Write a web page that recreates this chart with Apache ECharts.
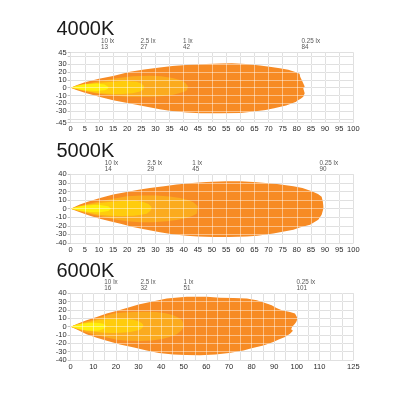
<!DOCTYPE html>
<html><head><meta charset="utf-8">
<script src="https://cdn.jsdelivr.net/npm/echarts@6.0.0/dist/echarts.min.js"></script>
<style>html,body{margin:0;padding:0;background:#fff}#c{width:416px;height:416px}</style>
</head><body><div id="c"></div><script>
// ---------- data ----------
const panelTitles = ['4000K', '5000K', '6000K'];
const luxLevels = ['10 lx', '2.5 lx', '1 lx', '0.25 lx'];
const isoColors = ['#FFEE0A', '#FFCC0D', '#FBAB1E', '#F78B24'];

const dist4000 = [13, 27, 42, 84];
const dist5000 = [14, 29, 45, 90];
const dist6000 = [16, 32, 51, 101];

const xTicks4000 = [0,5,10,15,20,25,30,35,40,45,50,55,60,65,70,75,80,85,90,95,100];
const yTicks4000 = [-45,-40,-30,-20,-10,0,10,20,30,40,45];
const yLabels4000 = [-45,-30,-20,-10,0,10,20,30,45];
const xTicks5000 = xTicks4000;
const yLabels5000 = [-40,-30,-20,-10,0,10,20,30,40];
const xTicks6000 = [0,5,10,15,20,25,30,35,40,45,50,55,60,65,70,75,80,85,90,95,100,105,110,115,120,125];
const xLabels6000 = [0,10,20,30,40,50,60,70,80,90,100,110,125];
const yLabels6000 = [-40,-30,-20,-10,0,10,20,30,40];

// isolux outlines [distance m, width m]
const iso4000_10 = [[0,0],[2,2.5],[4.5,4.5],[9.2,5.3],[12,4],[13.4,1],[13.2,-1.5],[12,-3.2],[9.2,-4.3],[4.5,-3.4],[2,-1.5]];
const iso4000_2_5 = [[0,0],[3,2.5],[6,4.5],[10.4,6.4],[15,7.8],[18.6,8.5],[23.3,7.7],[25,5.5],[26,2],[25.7,-2.5],[24.5,-5],[22,-7],[18,-8],[15,-8],[10,-7],[5,-4],[2,-1.5]];
const iso4000_1 = [[0,0],[3,3],[6,5.5],[10.4,8.5],[16,12],[22,14.8],[28,15.3],[32,14.8],[36,12.5],[39,9.5],[40.5,6.5],[41.5,2],[41.2,-3],[40.4,-5],[38,-7.5],[36,-9.4],[32,-11],[28,-11.5],[20,-11.5],[15,-10],[10.4,-8],[5,-4.5],[2,-2]];
const iso4000_025 = [[0,0],[2,3],[5,7],[10,11.5],[15,15],[21,20.5],[26,23.5],[31.5,26],[36,28],[42,29.5],[48,30.5],[53,31.2],[57,31.3],[62,30.5],[67,28.5],[71,26.5],[74,25],[77,23],[79.2,20.6],[81,18],[81.2,14],[82,8],[82.8,1.5],[82.3,-1],[82.8,-7],[82.3,-11.6],[81.5,-14],[80,-17],[79.8,-18],[76.2,-23],[72,-26.5],[69,-28.8],[64,-31],[60,-32.5],[53,-33],[46,-33],[41,-32],[35,-29.5],[31.5,-27.6],[26,-24],[21,-20.3],[15,-16],[10.4,-11.8],[5,-6.5],[2,-3]];

const iso5000_10 = [[0,0],[2,2],[4.5,3.5],[8,4.2],[10.4,4.3],[13.3,2.7],[14.3,0],[13.3,-2.7],[10.4,-4.3],[7,-4],[4.5,-3.1],[2,-1.7]];
const iso5000_2_5 = [[0,0],[3,2.5],[6,4.5],[10.4,6.6],[15,8.3],[19.8,9.3],[23,9.1],[25.7,7.8],[27.5,5.5],[28.5,2.5],[28.6,0],[28.2,-2.5],[26.9,-5.8],[24.5,-7.3],[22.2,-8.2],[18,-8.5],[13.9,-8.2],[10,-7],[6.8,-5],[3,-2.3]];
const iso5000_1 = [[0,0],[3,3],[6,5.5],[10.4,8.5],[15,11.5],[19.8,14.4],[25,15.3],[30.4,15.2],[35,14.2],[38.7,12.4],[41.5,10],[43.4,7.4],[45,2.7],[44.8,-2],[44.6,-5.8],[43,-8.5],[41,-10.9],[37.5,-13.3],[34,-14.8],[29,-15.8],[24.5,-15.9],[20,-14.8],[16.3,-12.8],[12,-10],[8,-7],[4,-4],[2,-2]];
const iso5000_025 = [[0,0],[3,4.5],[6,8],[10.4,12.4],[15,16.5],[19.8,19.4],[24,22],[28,24],[33,26.2],[37.5,28],[43,30],[48,31],[55,31.9],[60,31.8],[64.6,31],[69,30],[73,28.8],[78.8,26],[82,24],[85.3,20.2],[87.5,17],[88.8,14],[89.2,8.5],[89.4,3],[89.4,0],[88.8,-7],[87.6,-12.8],[86,-16],[84.7,-18.7],[81,-22],[78.8,-24.5],[75,-27],[71.7,-29],[66,-31.5],[62.3,-32.3],[56,-33],[50.5,-33],[45,-32.5],[41,-31.5],[36,-29.8],[31.6,-27.6],[26,-24],[22,-21.4],[18,-18],[13.9,-14.8],[10,-11.5],[6.8,-8.2],[3,-4]];

const iso6000_10 = [[0,0],[2,2],[4.9,3.6],[7.5,4.4],[10,4.8],[12.5,4.4],[14.5,3.6],[15.8,0.4],[14.5,-2.8],[12.5,-4.5],[10,-5],[7,-4.6],[4.9,-3.6],[2,-1.7]];
const iso6000_2_5 = [[0,0],[3,2.5],[5.6,4],[11.5,7.6],[16,9],[20.4,9.6],[24,9.4],[27.7,8.4],[30,6.5],[31.4,4.4],[32.2,1.6],[31.8,-1],[30.7,-3.6],[28.5,-5.2],[26.3,-6.4],[22,-7.3],[18.9,-7.6],[15,-7.3],[11.5,-6.4],[8,-5],[5.6,-3.6],[2.5,-1.8]];
const iso6000_1 = [[0,0],[3,3],[6,5.5],[10,8.4],[14,12],[18.9,15.7],[23,17],[27.7,17.7],[33,17.8],[38,17.7],[42,16],[45.4,13.7],[47.5,11],[49.1,8.4],[49.9,3.6],[49.8,0],[49.1,-4.4],[46.9,-9.2],[44,-12],[41,-14.5],[36,-16.5],[30.7,-17.3],[25,-17],[20.4,-15.7],[15,-12.5],[10,-9.2],[6,-6],[3,-3]];
const iso6000_025 = [[0,0],[3,3.5],[7,7.6],[11.5,11.5],[15.9,15.7],[21,19.5],[26.3,23.7],[30,26.5],[35.1,29.7],[42.5,33.8],[51.3,35.8],[55,36],[60.2,35.8],[66,34.6],[72,34.5],[77.9,33.8],[82.3,31.7],[86,28.5],[88.9,25.7],[91,22.5],[93.4,19.7],[97,17.6],[99.2,15.7],[100,12],[100.3,9.6],[99.8,6],[99.2,3.6],[98,0],[97.5,-3],[98.3,-5],[97,-8.4],[94.8,-12.5],[92,-15.5],[89.6,-18.5],[85.2,-22.5],[80,-26],[76.4,-28.5],[70,-31.5],[64,-33.5],[57.2,-34.2],[51,-34],[45.4,-33.4],[39,-31.5],[33.6,-28.5],[28,-25],[21.8,-21.3],[16,-17],[11.5,-13.3],[7,-9],[4.1,-5.2],[2,-2.5]];

// ---------- panels ----------
const panels = [
  {title: panelTitles[0], dist: dist4000, xMax: 100, yMin: -45, yMax: 45, xTicks: xTicks4000, xLabels: xTicks4000, yTicks: yTicks4000, yLabels: yLabels4000,
   iso: [iso4000_025, iso4000_1, iso4000_2_5, iso4000_10]},
  {title: panelTitles[1], dist: dist5000, xMax: 100, yMin: -40, yMax: 40, xTicks: xTicks5000, xLabels: xTicks5000, yTicks: yLabels5000, yLabels: yLabels5000,
   iso: [iso5000_025, iso5000_1, iso5000_2_5, iso5000_10]},
  {title: panelTitles[2], dist: dist6000, xMax: 125, yMin: -40, yMax: 40, xTicks: xTicks6000, xLabels: xLabels6000, yTicks: yLabels6000, yLabels: yLabels6000,
   iso: [iso6000_025, iso6000_1, iso6000_2_5, iso6000_10]}
];
const layout = [
  {top: 52.7, height: 70, titleY: 29.5, labelDx: -6},
  {top: 174.3, height: 68.7, titleY: 151, labelDx: -5},
  {top: 293.3, height: 66.7, titleY: 271, labelDx: -2}
];
const GL = 70.7, GW = 282.6;
const gridGray = '#c6c6c6';
const textCol = '#2a2a2a';
const FONT = 'Liberation Sans';

const grids = [], xAxes = [], yAxes = [], series = [], graphics = [];
panels.forEach((p, i) => {
  const L = layout[i];
  const gBase = grids.length;
  grids.push({left: GL, top: L.top, width: GW, height: L.height});
  grids.push({left: GL, top: L.top, width: GW, height: L.height});
  const xIdx = xAxes.length, yIdx = yAxes.length;
  const labelFmt = (list) => (v) => (list.indexOf(Math.round(v * 100) / 100) >= 0 ? String(v) : '');
  xAxes.push({
    type: 'value', gridIndex: gBase, min: 0, max: p.xMax, interval: 5,
    axisLine: {show: true, lineStyle: {color: gridGray, width: 1}},
    axisTick: {show: true, length: 3, inside: false, customValues: p.xTicks, lineStyle: {color: gridGray}},
    axisLabel: {show: true, customValues: p.xLabels, formatter: labelFmt(p.xLabels), margin: 2.5, fontSize: 7.5, color: textCol, fontFamily: FONT, hideOverlap: false},
    splitLine: {show: true, lineStyle: {color: gridGray, width: 1}}
  });
  yAxes.push({
    type: 'value', gridIndex: gBase, min: p.yMin, max: p.yMax, interval: 5,
    axisLine: {show: true, lineStyle: {color: gridGray, width: 1}},
    axisTick: {show: true, length: 3, inside: false, customValues: p.yTicks, lineStyle: {color: gridGray}},
    axisLabel: {show: true, customValues: p.yLabels, formatter: labelFmt(p.yLabels), margin: 4, fontSize: 7.5, color: textCol, fontFamily: FONT, hideOverlap: false},
    splitLine: {show: true, lineStyle: {color: gridGray, width: 1}}
  });
  xAxes.push({
    type: 'value', gridIndex: gBase + 1, min: 0, max: p.xMax, interval: 5, z: 10,
    axisLine: {show: false}, axisLabel: {show: false},
    axisTick: {show: false, customValues: p.xTicks},
    splitLine: {show: true, lineStyle: {color: 'rgba(255,255,255,0.45)', width: 1}}
  });
  yAxes.push({
    type: 'value', gridIndex: gBase + 1, min: p.yMin, max: p.yMax, interval: 5, z: 10,
    axisLine: {show: false}, axisLabel: {show: false},
    axisTick: {show: false, customValues: p.yTicks},
    splitLine: {show: true, lineStyle: {color: 'rgba(255,255,255,0.45)', width: 1}}
  });
  const colorOrder = [isoColors[3], isoColors[2], isoColors[1], isoColors[0]];
  p.iso.forEach((pts, k) => {
    series.push({
      type: 'custom', xAxisIndex: xIdx, yAxisIndex: yIdx, silent: true, z: 2 + k,
      data: pts,
      renderItem: (params, api) => {
        if (params.dataIndex !== 0) return null;
        return {
          type: 'polygon',
          shape: {points: pts.map(pt => api.coord(pt))},
          style: {fill: colorOrder[k], stroke: null}
        };
      }
    });
  });
  series.push({
    type: 'scatter', xAxisIndex: xIdx, yAxisIndex: yIdx, clip: false, silent: true,
    symbolSize: 1, itemStyle: {color: 'rgba(0,0,0,0)'},
    data: p.dist.map(d => [d, p.yMax]),
    label: {
      show: true, position: [L.labelDx, -13.5], align: 'left', verticalAlign: 'top',
      fontSize: 6.3, lineHeight: 6, color: textCol, fontFamily: FONT,
      formatter: (prm) => luxLevels[prm.dataIndex] + '\n' + p.dist[prm.dataIndex]
    },
    z: 20
  });
  graphics.push({
    type: 'text', x: 56.5, y: L.titleY,
    style: {text: p.title, font: '20px "Liberation Sans"', fill: '#1a1a1a', align: 'left', verticalAlign: 'middle'}
  });
});

const chart = echarts.init(document.getElementById('c'), null, {renderer: 'canvas'});
chart.setOption({
  animation: false,
  backgroundColor: '#ffffff',
  grid: grids, xAxis: xAxes, yAxis: yAxes, series: series, graphic: graphics
});
</script></body></html>
